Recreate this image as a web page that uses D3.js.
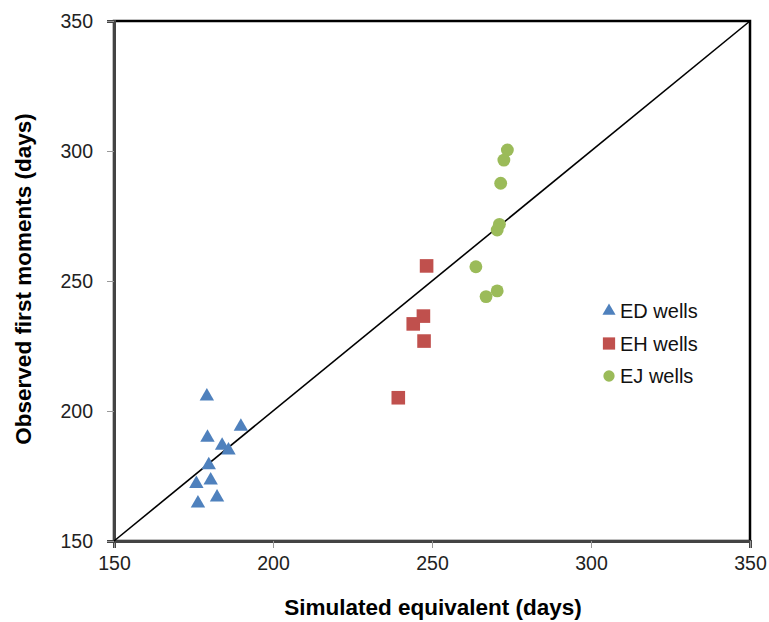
<!DOCTYPE html>
<html>
<head>
<meta charset="utf-8">
<script src="https://cdn.jsdelivr.net/npm/d3@7"></script>
<style>
body { margin: 0; background: #fff; }
text { font-family: "Liberation Sans", Arial, sans-serif; }
</style>
</head>
<body>
<svg width="769" height="622"></svg>
<script>
// data
var edSim = [179.2, 189.9, 179.4, 184.0, 186.0, 179.8, 180.4, 175.9, 182.4, 176.4];
var edObs = [205.6, 194.0, 189.8, 186.7, 184.9, 179.2, 173.3, 172.0, 166.8, 164.5];
var ehSim = [248.3, 247.3, 244.1, 247.5, 239.4];
var ehObs = [255.8, 236.5, 233.5, 226.9, 205.1];
var ejSim = [273.7, 272.6, 271.6, 271.2, 270.5, 263.8, 270.5, 267.0];
var ejObs = [300.4, 296.5, 287.6, 271.8, 269.6, 255.5, 246.2, 244.0];
var ticks = [150, 200, 250, 300, 350];
var seriesNames = ["ED wells", "EH wells", "EJ wells"];
var colors = ["#4F81BD", "#C0504D", "#9BBB59"];

var svg = d3.select("svg"),
    margin = {top: 21, right: 19, bottom: 81, left: 114},
    width = +svg.attr("width") - margin.left - margin.right,
    height = +svg.attr("height") - margin.top - margin.bottom,
    g = svg.append("g").attr("transform", "translate(" + margin.left + "," + margin.top + ")");

var x = d3.scaleLinear().domain([150, 350]).range([0, width]);
var y = d3.scaleLinear().domain([150, 350]).range([height, 0]);

// frame
g.append("rect")
    .attr("width", width).attr("height", height)
    .attr("fill", "none").attr("stroke", "#000").attr("stroke-width", 2.5);

var xAxis = g.append("g")
    .attr("transform", "translate(0," + height + ")")
    .call(d3.axisBottom(x).tickValues(ticks).tickSize(7).tickPadding(8));
var yAxis = g.append("g")
    .call(d3.axisLeft(y).tickValues(ticks).tickSize(7).tickPadding(14));

[xAxis, yAxis].forEach(function(a) {
  a.select(".domain").attr("stroke", "#444").attr("stroke-width", 3);
  a.selectAll(".tick line").attr("stroke", "#999");
  a.selectAll(".tick text")
      .attr("fill", "#222")
      .style("font-size", "19.5px")
      .style("font-family", "Liberation Sans, Arial, sans-serif");
});

// 1:1 line
g.append("line")
    .attr("x1", x(150)).attr("y1", y(150))
    .attr("x2", x(350)).attr("y2", y(350))
    .attr("stroke", "#000").attr("stroke-width", 1.6);

var sets = [
  {sim: edSim, obs: edObs, sym: d3.symbolTriangle, size: 90, legSize: 75},
  {sim: ehSim, obs: ehObs, sym: d3.symbolSquare, size: 185, legSize: 150},
  {sim: ejSim, obs: ejObs, sym: d3.symbolCircle, size: 130, legSize: 100}
];

sets.forEach(function(s, k) {
  g.selectAll(".pt" + k)
    .data(s.sim.map(function(v, i) { return {sim: v, obs: s.obs[i]}; }))
    .enter().append("path")
      .attr("class", "pt" + k)
      .attr("d", d3.symbol().type(s.sym).size(s.size))
      .attr("transform", function(d) { return "translate(" + x(d.sim) + "," + y(d.obs) + ")"; })
      .attr("fill", colors[k]);
});

// legend
var leg = svg.append("g").attr("transform", "translate(609,311)");
seriesNames.forEach(function(n, k) {
  var row = leg.append("g").attr("transform", "translate(0," + (k * 32.5) + ")");
  row.append("path")
      .attr("d", d3.symbol().type(sets[k].sym).size(sets[k].legSize))
      .attr("fill", colors[k]);
  row.append("text")
      .attr("x", 11).attr("dy", "0.36em")
      .style("font-size", "20px")
      .attr("fill", "#111")
      .text(n);
});

// axis titles
svg.append("text")
    .attr("x", 433).attr("y", 615)
    .attr("text-anchor", "middle")
    .style("font-size", "22.5px").style("font-weight", "bold")
    .text("Simulated equivalent (days)");

svg.append("text")
    .attr("transform", "translate(31,279) rotate(-90)")
    .attr("text-anchor", "middle")
    .style("font-size", "22.5px").style("font-weight", "bold")
    .text("Observed first moments (days)");
</script>
</body>
</html>
